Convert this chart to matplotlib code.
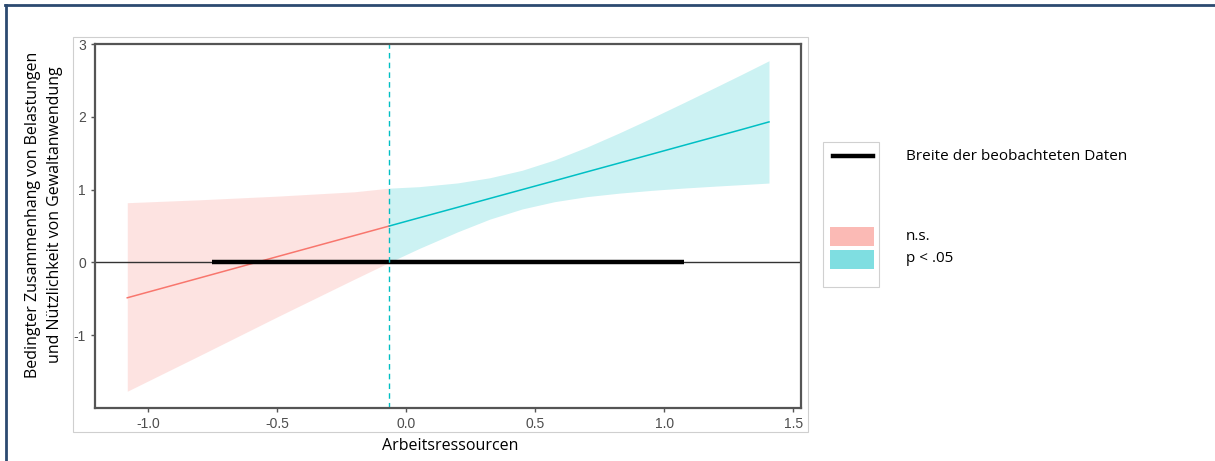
import numpy as np
import matplotlib
matplotlib.use("Agg")
import matplotlib.pyplot as plt
from matplotlib.patches import Rectangle
from matplotlib.lines import Line2D

plt.rcParams["axes.unicode_minus"] = False

# simple slope of Belastungen on Gewaltanwendung across Arbeitsressourcen
jn_point = -0.065          # Johnson-Neyman boundary
obs_range = [-0.75, 1.076]  # range of observed moderator values

ns_x = [-1.08, -0.8, -0.5, -0.2, -0.065]
ns_est = [-0.486, -0.214, 0.078, 0.369, 0.5]
ns_lo = [-1.77, -1.28, -0.75, -0.23, 0.0]
ns_hi = [0.82, 0.86, 0.91, 0.97, 1.02]

sig_x = [-0.065, 0.05, 0.2, 0.325, 0.45, 0.575, 0.7, 0.825, 0.95, 1.075, 1.2, 1.3, 1.406]
sig_est = [0.5, 0.612, 0.757, 0.879, 1.0, 1.121, 1.243, 1.364, 1.485, 1.607, 1.728, 1.825, 1.93]
sig_lo = [0.0, 0.19, 0.42, 0.595, 0.734, 0.834, 0.903, 0.951, 0.989, 1.021, 1.048, 1.068, 1.09]
sig_hi = [1.02, 1.04, 1.092, 1.163, 1.266, 1.408, 1.583, 1.777, 1.981, 2.193, 2.408, 2.582, 2.77]

xticks = [-1.0, -0.5, 0.0, 0.5, 1.0, 1.5]
yticks = [-1, 0, 1, 2, 3]

RED = "#F8766D"
TEAL = "#00BFC4"
W, H = 1215, 461

fig = plt.figure(figsize=(W / 100, H / 100), dpi=100)


def fx(px):
    return px / W


def fy(py):
    return 1 - py / H


# outer document frame and pasted-image border
fig.add_artist(Line2D([fx(5), fx(1215)], [fy(5), fy(5)], color="#2c4a70", lw=2))
fig.add_artist(Line2D([fx(6), fx(6)], [fy(5), 0], color="#2c4a70", lw=2))
fig.add_artist(Rectangle((fx(73), fy(432)), fx(808 - 73), (432 - 37) / H,
                         fill=False, ec="#cfcfcf", lw=0.8))

ax = fig.add_axes([fx(95), fy(408), fx(801 - 95), (408 - 44) / H])
ax.fill_between(ns_x, ns_lo, ns_hi, color=RED, alpha=0.2, lw=0)
ax.fill_between(sig_x, sig_lo, sig_hi, color=TEAL, alpha=0.2, lw=0)
ax.plot(ns_x, ns_est, color=RED, lw=1.1)
ax.plot(sig_x, sig_est, color=TEAL, lw=1.1)
ax.axhline(0, color="#333333", lw=1.0)
ax.plot(obs_range, [0, 0], color="black", lw=3.2, solid_capstyle="butt")
ax.axvline(jn_point, color=TEAL, lw=1.0, ls=(0, (4, 3)))

ax.set_xlim(-1.205, 1.53)
ax.set_ylim(-2.0, 3.0)
ax.set_xticks(xticks)
ax.set_xticklabels([f"{v:.1f}" for v in xticks])
ax.set_yticks(yticks)
ax.set_yticklabels([str(v) for v in yticks])
for s in ax.spines.values():
    s.set_color("#555555")
    s.set_linewidth(1.6)
ax.tick_params(colors="#555555", labelcolor="#4d4d4d", length=3, width=1,
               labelsize=10)
for lab in ax.get_xticklabels() + ax.get_yticklabels():
    lab.set_family("Liberation Sans")

fig.text(fx(450), fy(446), "Arbeitsressourcen", ha="center", va="center",
         fontsize=11.5, family="Open Sans")
fig.text(fx(33), fy(215), "Bedingter Zusammenhang von Belastungen",
         rotation=90, ha="center", va="center", fontsize=11.5, family="Open Sans")
fig.text(fx(55), fy(215), "und Nützlichkeit von Gewaltanwendung",
         rotation=90, ha="center", va="center", fontsize=11.5, family="Open Sans")

# legend
fig.add_artist(Rectangle((fx(823), fy(287)), fx(879 - 823), (287 - 142) / H,
                         fill=False, ec="#d0d0d0", lw=0.8))
fig.add_artist(Line2D([fx(833), fx(873)], [fy(156), fy(156)], color="black", lw=3.2))
fig.add_artist(Rectangle((fx(830), fy(246)), fx(44), 19 / H, fc=RED, alpha=0.5, ec="none"))
fig.add_artist(Rectangle((fx(830), fy(269)), fx(44), 19 / H, fc=TEAL, alpha=0.5, ec="none"))
fig.text(fx(906), fy(157), "Breite der beobachteten Daten", ha="left", va="center",
         fontsize=11, family="Open Sans")
fig.text(fx(906), fy(236), "n.s.", ha="left", va="center", fontsize=11, family="Open Sans")
fig.text(fx(906), fy(258), "p < .05", ha="left", va="center", fontsize=11, family="Open Sans")

fig.savefig("out.png", dpi=100)
